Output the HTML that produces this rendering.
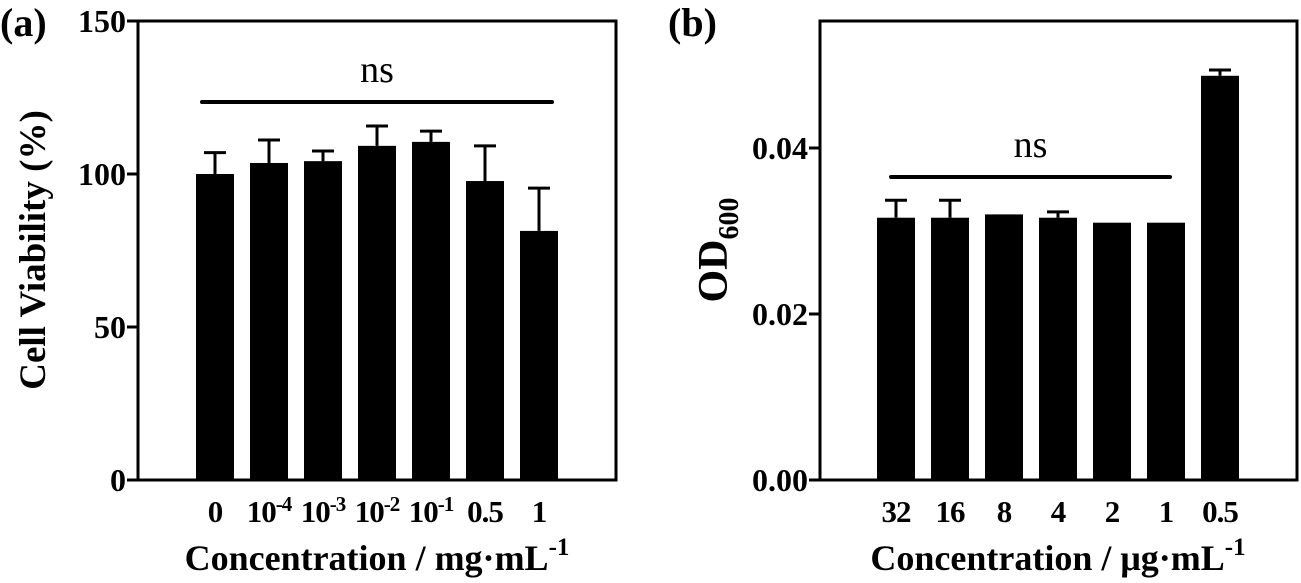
<!DOCTYPE html>
<html><head><meta charset="utf-8"><style>
body{margin:0;background:#fff}
svg{display:block;font-family:"Liberation Serif",serif}
</style></head><body>
<svg id="chart" width="1301" height="583" viewBox="0 0 1301 583"></svg>
<script>
const catsA = ["0","10^-4","10^-3","10^-2","10^-1","0.5","1"];
const valsA = [100,103.6,104.2,109.2,110.5,97.7,81.4];
const errA = [107,111.1,107.5,115.7,114,109.2,95.4];
const ticksA = [0,50,100,150];
const catsB = ["32","16","8","4","2","1","0.5"];
const valsB = [0.0316,0.0316,0.0320,0.0316,0.0310,0.0310,0.0487];
const errB = [0.0337,0.0337,null,0.0323,null,null,0.0494];
const ticksB = [0,0.02,0.04];
const tickLabelsB = ["0.00","0.02","0.04"];

const NS="http://www.w3.org/2000/svg";
const svg=document.getElementById('chart');
function mk(tag,attrs,parent){const e=document.createElementNS(NS,tag);for(const k in attrs)e.setAttribute(k,attrs[k]);(parent||svg).appendChild(e);return e;}

function panel(o){
  const g=mk('g',{});
  
  
  const y=v=>o.bottom-(v-o.ymin)/(o.ymax-o.ymin)*(o.bottom-o.top);
  const x=i=>o.x0+i*o.step;
  const ax=mk('path',{d:`M${o.left},${o.top} L${o.right},${o.top} L${o.right},${o.bottom} L${o.left},${o.bottom} Z`,fill:'none',stroke:'#000','stroke-width':3},g);
  
  
  o.ticks.forEach((t,i)=>{
    const yy=y(t);
    const tl=mk('line',{x1:o.left-11,x2:o.left,y1:yy,y2:yy,stroke:'#000','stroke-width':3},g);
    
    
    const tx=mk('text',{x:o.left-12,y:yy+11,'text-anchor':'end','font-size':32,'font-weight':'bold'},g);
    tx.textContent=o.tickLabels?o.tickLabels[i]:t;
    
    
  });
  o.vals.forEach((v,i)=>{
    const cx=x(i);
    const b=mk('rect',{x:cx-19,y:y(v),width:38,height:o.bottom-y(v),fill:'#000'},g);
    
    
    if(o.errs[i]!=null){
      const e=mk('path',{d:`M${cx},${y(v)} L${cx},${y(o.errs[i])} M${cx-11},${y(o.errs[i])} L${cx+11},${y(o.errs[i])}`,stroke:'#000','stroke-width':3,fill:'none'},g);
      
      
    }
    const lab=mk('text',{x:cx,y:o.bottom+42,'text-anchor':'middle','font-size':31,'font-weight':'bold','letter-spacing':'-1'},g);
    const c=o.cats[i];
    if(c.includes('^')){const [b1,p]=c.split('^');lab.textContent=b1;const s=mk('tspan',{dy:-11,'font-size':21},lab);s.textContent=p;}
    else lab.textContent=c;
    
    
  });
  const nl=mk('line',{x1:o.ns[0],x2:o.ns[1],y1:o.ns[2],y2:o.ns[2],stroke:'#000','stroke-width':4,'stroke-linecap':'round'},g);
  
  
  const nt=mk('text',{x:(o.ns[0]+o.ns[1])/2,y:o.ns[2]-20,'text-anchor':'middle','font-size':38},g);
  nt.textContent='ns';
  
  
  return g;
}
panel({name:'panel-a',left:138,right:616,top:21,bottom:480,ymin:0,ymax:150,x0:215,step:54,
  vals:valsA,errs:errA,cats:catsA,ticks:ticksA,ns:[202,552,102]});
panel({name:'panel-b',left:820,right:1297,top:21,bottom:480,ymin:0,ymax:0.0553,x0:896,step:54,
  vals:valsB,errs:errB,cats:catsB,ticks:ticksB,tickLabels:tickLabelsB,ns:[891,1170,177]});
</script>
<svg width="1301" height="583" style="position:absolute;left:0;top:0">
<text x="0" y="36" font-family="Liberation Serif" font-size="40" font-weight="bold">(a)</text>
<text x="668" y="36" font-family="Liberation Serif" font-size="40" font-weight="bold">(b)</text>
<text transform="translate(45,250) rotate(-90)" text-anchor="middle" font-family="Liberation Serif" font-size="37" font-weight="bold">Cell Viability (%)</text>
<text transform="translate(727,250) rotate(-90)" text-anchor="middle" font-family="Liberation Serif" font-size="42" font-weight="bold">OD<tspan font-size="28" dy="11">600</tspan></text>
<text x="377" y="570" text-anchor="middle" font-family="Liberation Serif" font-size="36" font-weight="bold">Concentration / mg·mL<tspan font-size="25" dy="-15">-1</tspan></text>
<text x="1058" y="570" text-anchor="middle" font-family="Liberation Serif" font-size="36" font-weight="bold">Concentration / μg·mL<tspan font-size="25" dy="-15">-1</tspan></text>
</svg>
</body></html>
